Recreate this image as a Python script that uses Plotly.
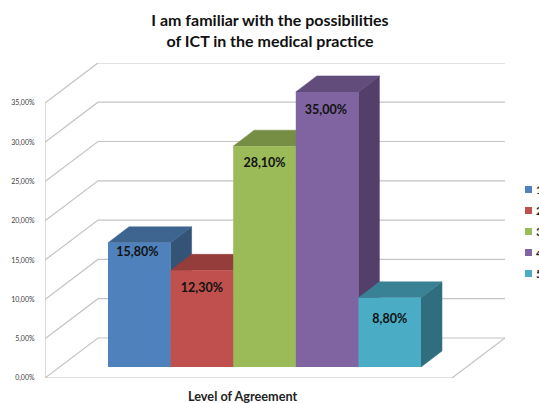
import plotly.graph_objects as go

categories = ["1", "2", "3", "4", "5"]
values = [15.8, 12.3, 28.1, 35.0, 8.8]
tick_values = [0, 5, 10, 15, 20, 25, 30, 35]
tick_labels = ["0,00%", "5,00%", "10,00%", "15,00%", "20,00%", "25,00%", "30,00%", "35,00%"]
title_text = "I am familiar with the possibilities<br>of ICT in the medical practice"
x_title = "Level of Agreement"

front_colors = ["#4F81BD", "#C0504D", "#9BBB59", "#8064A2", "#4BACC6"]
top_colors = ["#3E6490", "#943D3B", "#768E44", "#614C7B", "#398195"]
side_colors = ["#335477", "#7A3230", "#617536", "#533F69", "#2F6D7F"]
label_drops = [1.33, 2.33, 2.23, 2.43, 2.85]
label_shift = [-0.03, 0.0, 0.0, -0.02, 0.0]

W, H = 539, 403
L, R, T, B = 45, 505, 63, 378
UX = 62.6              # px per category
UY = 7.86              # px per percent
X0 = -0.5 - (108 - L) / UX
X1 = X0 + (R - L) / UX
Y1 = (B - T) / UY
WALL_X, WALL_Y = 53 / UX, 40 / UY
BAR_BASE = 11 / UY
DEPTH_X, DEPTH_Y = 21 / UX, 16 / UY
FLOOR_END = X0 + (452 - L) / UX
GRID = "#c4c4c4"

fig = go.Figure()


def line(xs, ys, width=1.2):
    fig.add_trace(go.Scatter(x=xs, y=ys, mode="lines", showlegend=False, hoverinfo="skip",
                             line=dict(color=GRID, width=width)))


def poly(xs, ys, color):
    fig.add_trace(go.Scatter(x=xs, y=ys, mode="lines", fill="toself", fillcolor=color,
                             showlegend=False, hoverinfo="skip",
                             line=dict(color=color, width=0.5)))


# walls and floor
for v in tick_values:
    line([X0, X0 + WALL_X, X1], [v, v + WALL_Y, v + WALL_Y])
line([X0, X0], [0, max(tick_values)])
line([X0, FLOOR_END, X1], [0, 0, WALL_Y])

# side and top faces
for i, v in enumerate(values):
    left, right = i - 0.5, i + 0.5
    top = BAR_BASE + v
    poly([right, right + DEPTH_X, right + DEPTH_X, right, right],
         [BAR_BASE, BAR_BASE + DEPTH_Y, top + DEPTH_Y, top, BAR_BASE], side_colors[i])
    poly([left, left + DEPTH_X, right + DEPTH_X, right, left],
         [top, top + DEPTH_Y, top + DEPTH_Y, top, top], top_colors[i])

# front faces, drawn on an overlaid subplot so they cover the faces behind
for i, (c, v) in enumerate(zip(categories, values)):
    fig.add_trace(go.Bar(x=[i], y=[v], base=BAR_BASE, width=1, xaxis="x2", yaxis="y2",
                         marker=dict(color=front_colors[i], line=dict(width=0)),
                         name=c, showlegend=False))

# data labels
fig.add_trace(go.Scatter(
    x=[i + s for i, s in enumerate(label_shift)],
    y=[BAR_BASE + v - d for v, d in zip(values, label_drops)],
    text=[f"{v:.2f}%".replace(".", ",") for v in values],
    mode="text", xaxis="x2", yaxis="y2", showlegend=False, hoverinfo="skip",
    textfont=dict(family="Lato", size=12.5, color="#111111", weight="bold")))

# legend swatches
for i, c in enumerate(categories):
    fig.add_trace(go.Scatter(x=[None], y=[None], mode="markers", name=c, legendgroup=c,
                             marker=dict(symbol="square", size=7, color=front_colors[i])))


def px_x(p):
    return (p - L) / (R - L)


def px_y(p):
    return (B - p) / (B - T)


annotations = [dict(text=x_title, x=px_x(243), y=px_y(396), xref="paper", yref="paper",
                    showarrow=False, xanchor="center", yanchor="middle",
                    font=dict(family="Lato", size=12.7, color="#222222", weight="bold"))]
for i, c in enumerate(categories):
    annotations.append(dict(text=c, x=px_x(533.5), y=px_y(189 + 21 * i), xref="paper", yref="paper",
                            showarrow=False, xanchor="left", yanchor="middle",
                            font=dict(family="Lato", size=12, color="#222222", weight="bold")))

axis_off = dict(visible=False, fixedrange=True)

fig.update_layout(
    width=W, height=H, autosize=False,
    margin=dict(l=L, r=W - R, t=T, b=H - B, autoexpand=False),
    paper_bgcolor="white", plot_bgcolor="white",
    barmode="overlay",
    title=dict(text=title_text, x=270 / W, xanchor="center", y=1 - 26 / H, yanchor="middle",
               font=dict(family="Lato", size=16, color="#111111", weight="bold")),
    xaxis=dict(range=[X0, X1], **axis_off),
    yaxis=dict(range=[0, Y1], tickmode="array", tickvals=tick_values, ticktext=tick_labels,
               showgrid=False, zeroline=False, showline=False, ticks="outside", ticklen=8,
               tickcolor="rgba(0,0,0,0)", fixedrange=True,
               tickfont=dict(family="Lato", size=7, color="#404040")),
    xaxis2=dict(range=[X0, X1], overlaying="x", **axis_off),
    yaxis2=dict(range=[0, Y1], overlaying="y", **axis_off),
    legend=dict(x=px_x(508.5), xanchor="left", y=px_y(175), yanchor="top",
                tracegroupgap=2, bgcolor="rgba(0,0,0,0)", font=dict(family="Lato", size=12),
                itemclick=False, itemdoubleclick=False),
    annotations=annotations,
)

fig.write_html("out.html", post_script="document.body.style.margin='0';document.body.style.overflow='hidden';",
               config=dict(displayModeBar=False))
